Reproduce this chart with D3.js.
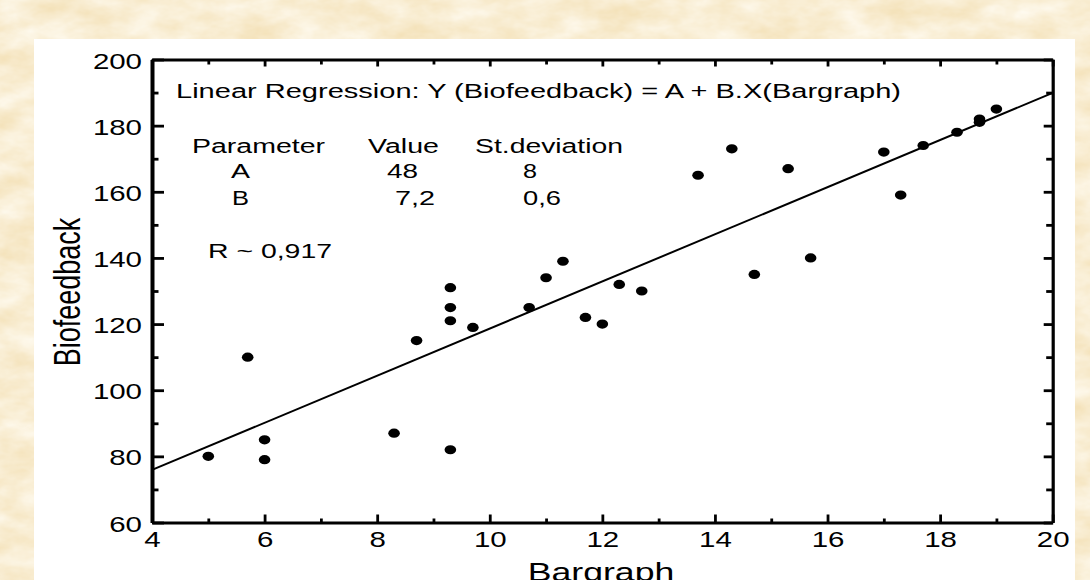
<!DOCTYPE html>
<html><head><meta charset="utf-8">
<script src="https://cdn.jsdelivr.net/npm/d3@7"></script>
<style>html,body{margin:0;padding:0;overflow:hidden;background:#f6e6c2}</style>
</head><body>
<script>
// ---- data ----
const bargraph = [5, 5.7, 6, 6, 8.3, 8.7, 9.3, 9.3, 9.3, 9.3, 9.7, 10.7, 11, 11.3, 11.7, 12, 12.3, 12.7,
                  13.7, 14.3, 14.7, 15.3, 15.7, 17, 17.3, 17.7, 18.3, 18.7, 18.7, 19];
const biofeedback = [80, 110, 85, 79, 87, 115, 131, 125, 121, 82, 119, 125, 134, 139, 122, 120, 132, 130,
                     165, 173, 135, 167, 140, 172, 159, 174, 178, 182, 181, 185];
const fitX = [4, 20];
const fitY = [75.9, 189.9];
const xMajorTicks = [4, 6, 8, 10, 12, 14, 16, 18, 20];
const xMinorTicks = [5, 7, 9, 11, 13, 15, 17, 19];
const yMajorTicks = [60, 80, 100, 120, 140, 160, 180, 200];
const yMinorTicks = [70, 90, 110, 130, 150, 170, 190];
const xTitle = "Bargraph";
const yTitle = "Biofeedback";
const annotations = [
  {t: "Linear Regression: Y (Biofeedback) = A + B.X(Bargraph)", x: 176, y: 98, w: 725},
  {t: "Parameter", x: 192, y: 153, w: 133},
  {t: "Value", x: 368, y: 153, w: 71},
  {t: "St.deviation", x: 475, y: 153, w: 148},
  {t: "A", x: 231, y: 178, w: 19},
  {t: "48", x: 387, y: 178, w: 31},
  {t: "8", x: 523, y: 178, w: 14},
  {t: "B", x: 232, y: 205, w: 17},
  {t: "7,2", x: 395, y: 205, w: 40},
  {t: "0,6", x: 523, y: 205, w: 38},
  {t: "R ~ 0,917", x: 208, y: 258, w: 124}
];

const W = 1090, H = 580;
const SX = 1.37; // horizontal stretch of the original image
const font = "'Liberation Sans', Arial, sans-serif";

const svg = d3.select("body").append("svg").attr("width", W).attr("height", H);
const defs = svg.append("defs");
const f = defs.append("filter").attr("id", "paper").attr("x", 0).attr("y", 0).attr("width", "100%").attr("height", "100%");
f.append("feTurbulence").attr("type", "fractalNoise").attr("baseFrequency", "0.025 0.045").attr("numOctaves", 4).attr("seed", 11);
f.append("feColorMatrix").attr("type", "matrix")
  .attr("values", "0 0 0 0 0.995  0 0 0 0 0.96  0 0 0 0 0.87  1.3 0 0 0 -0.2");

svg.append("rect").attr("width", W).attr("height", H).attr("fill", "#f4e2ba");
svg.append("rect").attr("width", W).attr("height", H).attr("filter", "url(#paper)");

// white panel
svg.append("rect").attr("x", 34).attr("y", 39).attr("width", 1041).attr("height", 560).attr("fill", "#ffffff");

const L = 152, R = 1052.7, T = 59.5, B = 522.5;
const x = d3.scaleLinear().domain([4, 20]).range([L, R]);
const y = d3.scaleLinear().domain([60, 200]).range([B, T]);

const g = svg.append("g");

function styleAxis(sel, w) {
  sel.selectAll("path.domain").attr("stroke", "#000").attr("stroke-width", w);
  sel.selectAll(".tick line").attr("stroke", "#000").attr("stroke-width", 2.8);
}

// minor ticks
g.append("g").attr("transform", `translate(0,${B})`)
  .call(d3.axisBottom(x).tickValues(xMinorTicks).tickSize(-4).tickFormat("").tickSizeOuter(0))
  .call(s => { s.select(".domain").remove(); styleAxis(s, 0); });
g.append("g").attr("transform", `translate(0,${T})`)
  .call(d3.axisTop(x).tickValues(xMinorTicks).tickSize(-5).tickFormat("").tickSizeOuter(0))
  .call(s => { s.select(".domain").remove(); styleAxis(s, 0); });
g.append("g").attr("transform", `translate(${L},0)`)
  .call(d3.axisLeft(y).tickValues(yMinorTicks).tickSize(-6.5).tickFormat("").tickSizeOuter(0))
  .call(s => { s.select(".domain").remove(); styleAxis(s, 0); });
g.append("g").attr("transform", `translate(${R},0)`)
  .call(d3.axisRight(y).tickValues(yMinorTicks).tickSize(-6.5).tickFormat("").tickSizeOuter(0))
  .call(s => { s.select(".domain").remove(); styleAxis(s, 0); });

// major axes
const xb = g.append("g").attr("transform", `translate(0,${B})`)
  .call(d3.axisBottom(x).tickValues(xMajorTicks).tickSize(-8).tickPadding(9.2).tickSizeOuter(0).tickFormat(d3.format("d")));
styleAxis(xb, 3.2);
xb.selectAll("text").attr("font-family", font).attr("font-size", 21.5).attr("fill", "#000")
  .attr("transform", `scale(${SX},1)`);

g.append("g").attr("transform", `translate(0,${T})`)
  .call(d3.axisTop(x).tickValues(xMajorTicks).tickSize(-7).tickFormat("").tickSizeOuter(0))
  .call(s => styleAxis(s, 3.2));

const yl = g.append("g").attr("transform", `translate(${L},0)`)
  .call(d3.axisLeft(y).tickValues(yMajorTicks).tickSize(-12).tickSizeOuter(0).tickFormat(d3.format("d")));
styleAxis(yl, 4);
yl.selectAll("text").attr("font-family", font).attr("font-size", 21.5).attr("fill", "#000")
  .attr("x", -10 / SX).attr("dy", null).attr("y", 8.5).attr("transform", `scale(${SX},1)`);

g.append("g").attr("transform", `translate(${R},0)`)
  .call(d3.axisRight(y).tickValues(yMajorTicks).tickSize(-9).tickFormat("").tickSizeOuter(0))
  .call(s => styleAxis(s, 3.2));

// regression line
const line = d3.line().x(d => x(d[0])).y(d => y(d[1]));
g.append("path").datum(d3.zip(fitX, fitY)).attr("d", line)
  .attr("fill", "none").attr("stroke", "#000").attr("stroke-width", 2);

// points
g.selectAll("ellipse.pt").data(d3.zip(bargraph, biofeedback)).join("ellipse")
  .attr("class", "pt")
  .attr("cx", d => x(d[0])).attr("cy", d => y(d[1]))
  .attr("rx", 5.8).attr("ry", 4.6).attr("fill", "#000");

// annotations
g.selectAll("text.ann").data(annotations).join("text")
  .attr("class", "ann")
  .attr("x", d => d.x).attr("y", d => d.y)
  .attr("textLength", d => d.w).attr("lengthAdjust", "spacingAndGlyphs")
  .attr("font-family", font).attr("font-size", 19.5).attr("fill", "#000")
  .text(d => d.t);

// axis titles
svg.append("text").attr("transform", `translate(601,581) scale(${SX},1)`)
  .attr("text-anchor", "middle").attr("font-family", font).attr("font-size", 26).attr("fill", "#000")
  .text(xTitle);
svg.append("text").attr("transform", `translate(80,292) scale(${SX},1) rotate(-90)`)
  .attr("text-anchor", "middle").attr("font-family", font).attr("font-size", 27).attr("fill", "#000")
  .text(yTitle);
</script>
</body></html>
